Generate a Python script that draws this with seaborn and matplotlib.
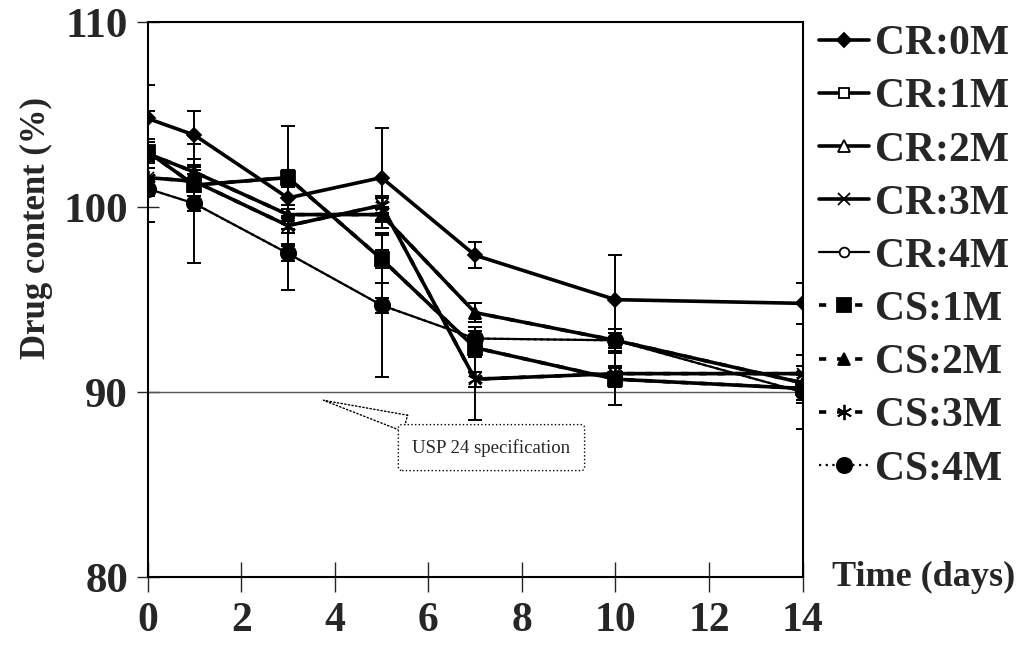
import numpy as np
import pandas as pd
import matplotlib
matplotlib.use("Agg")
import matplotlib.pyplot as plt
import seaborn as sns

# storage time points (days)
days = [0, 1, 3, 5, 7, 10, 14]

# drug content (%) (CR curves lie under the CS curves)
cr_0m = [104.8, 103.9, 100.5, 101.6, 97.4, 95.0, 94.8]
cr_1m = [103.0, 101.2, 101.6, 97.2, 92.4, 90.7, 90.2]
cr_2m = [102.9, 101.9, 99.6, 99.6, 94.3, 92.8, 90.5]
cr_3m = [101.6, 101.4, 99.0, 100.1, 90.7, 91.0, 91.0]
cr_4m = [101.0, 100.2, 97.5, 94.7, 92.9, 92.8, 90.0]
cs_1m = [103.0, 101.2, 101.6, 97.2, 92.4, 90.7, 90.2]
cs_2m = [102.9, 101.9, 99.6, 99.6, 94.3, 92.8, 90.5]
cs_3m = [101.6, 101.4, 99.0, 100.1, 90.7, 91.0, 91.0]
cs_4m = [101.0, 100.2, 97.5, 94.7, 92.9, 92.8, 90.0]

# standard deviations (error bars)
sd_cr_0m = [1.8, 1.3, 0.6, 2.7, 0.7, 2.4, 1.1]
sd_cr_1m = [0.5, 0.4, 0.4, 0.5, 0.4, 0.4, 0.4]
sd_cr_2m = [0.4, 0.4, 0.5, 0.4, 0.5, 0.4, 0.4]
sd_cr_3m = [0.5, 0.4, 0.4, 0.4, 0.4, 0.4, 0.4]
sd_cr_4m = [0.4, 0.4, 0.4, 0.4, 0.4, 0.4, 0.4]
sd_cs_1m = [2.2, 1.0, 2.8, 1.3, 0.5, 1.4, 0.8]
sd_cs_2m = [0.8, 0.4, 1.6, 0.3, 0.5, 0.6, 0.6]
sd_cs_3m = [0.8, 0.6, 0.4, 0.5, 2.2, 0.3, 0.4]
sd_cs_4m = [1.8, 3.2, 2.0, 3.9, 0.6, 0.6, 2.0]

labels = ["CR:0M", "CR:1M", "CR:2M", "CR:3M", "CR:4M",
          "CS:1M", "CS:2M", "CS:3M", "CS:4M"]
values = [cr_0m, cr_1m, cr_2m, cr_3m, cr_4m, cs_1m, cs_2m, cs_3m, cs_4m]
errors = [sd_cr_0m, sd_cr_1m, sd_cr_2m, sd_cr_3m, sd_cr_4m,
          sd_cs_1m, sd_cs_2m, sd_cs_3m, sd_cs_4m]

# marker, face colour, line style, line width, marker size
styles = {
    "CR:0M": ("D", "black", "-", 2.6, 7),
    "CR:1M": ("s", "white", "-", 2.6, 7),
    "CR:2M": ("^", "white", "-", 2.6, 8),
    "CR:3M": ("x", "black", "-", 2.6, 9),
    "CR:4M": ("o", "white", "-", 1.6, 7),
    "CS:1M": ("s", "black", (0, (2, 3)), 2.6, 10),
    "CS:2M": ("^", "black", (0, (2, 3)), 2.6, 9),
    "CS:3M": ((6, 2, 0), "black", (0, (2, 3)), 2.6, 11),
    "CS:4M": ("o", "black", (0, (1, 2)), 1.6, 11),
}

sns.set_theme(style="ticks")
plt.rcParams["font.family"] = ["Liberation Serif", "DejaVu Serif"]
plt.rcParams["font.weight"] = "bold"

fig = plt.figure(figsize=(10.25, 6.55), dpi=100)
ax = fig.add_axes([0.144, 0.119, 0.639, 0.847])

# USP limit line
ax.axhline(90, color="#555555", lw=1.0, zorder=1)

for name, vals, sd in zip(labels, values, errors):
    m, fc, ls, lw, ms = styles[name]
    ax.errorbar(days, vals, yerr=sd, fmt="none", ecolor="black",
                elinewidth=1.4, capsize=5, capthick=1.4, zorder=2)
    sns.lineplot(x=days, y=vals, ax=ax, color="black", marker=m,
                 markerfacecolor=fc, markeredgecolor="black",
                 markeredgewidth=1.3, markersize=ms, linestyle=ls,
                 linewidth=lw, label=name, zorder=3)

ax.set_xlim(0, 14)
ax.set_ylim(80, 110)
ax.set_xticks(np.arange(0, 15, 2))
ax.set_yticks([80, 90, 100, 110])
ax.tick_params(axis="x", direction="inout", length=22, width=1.0,
               pad=7, labelsize=30)
ax.tick_params(axis="y", direction="inout", length=16, width=1.0,
               pad=6, labelsize=31)
for s in ax.spines.values():
    s.set_linewidth(1.5)
    s.set_color("black")
for lab in ax.get_xticklabels() + ax.get_yticklabels():
    lab.set_fontweight("bold")

ax.set_xlabel("")
ax.set_ylabel("Drug content (%)", fontsize=25, fontweight="bold")
ax.yaxis.set_label_coords(-0.145, 0.63)
fig.text(0.812, 0.118, "Time (days)", fontsize=26, fontweight="bold",
         va="center", ha="left")

ax.annotate("USP 24 specification", xy=(3.7, 89.6), xytext=(7.35, 87.0),
            fontsize=13.5, fontweight="normal", ha="center", va="center",
            bbox=dict(boxstyle="round,pad=0.75,rounding_size=0.2", fc="white",
                      ec="black", ls=":", lw=1.0),
            arrowprops=dict(arrowstyle="wedge,tail_width=0.9,shrink_factor=0.5",
                            fc="white", ec="black", ls=":", lw=1.0))

leg = ax.legend(loc="upper left", bbox_to_anchor=(1.0, 1.025), frameon=False,
                fontsize=30, handlelength=1.2, handletextpad=0.15,
                labelspacing=0.36, borderaxespad=0)
for t in leg.get_texts():
    t.set_fontweight("bold")

fig.savefig("out.png", dpi=100)
